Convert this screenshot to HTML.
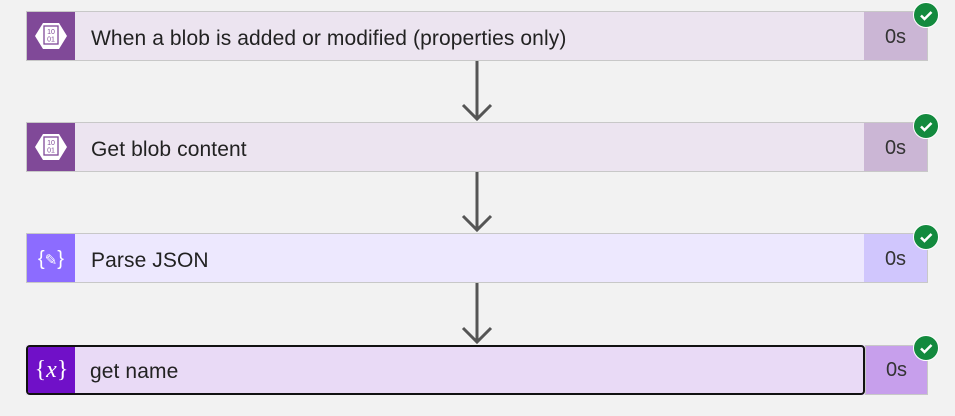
<!DOCTYPE html>
<html><head><style>
body{margin:0;width:955px;height:416px;background:#f2f2f2;position:relative;overflow:hidden;font-family:"Segoe UI","Liberation Sans",sans-serif;}
.card{position:absolute;left:26px;width:902px;height:49px;border:1px solid #c8c8c8;box-sizing:border-box;}
.ic{position:absolute;left:0;top:0;width:48px;height:100%;}
.t{position:absolute;left:64px;top:3px;line-height:48px;font-size:21px;color:#222;letter-spacing:0.1px;}
.d{position:absolute;right:0;top:0;width:63px;height:100%;font-size:20px;color:#333;line-height:50px;text-align:center;}
.ck{position:absolute;width:24px;height:24px;border-radius:50%;background:#138a3e;border:1.5px solid #fff;}
</style></head><body>

<div class="card" style="top:11px;height:50px;background:#ece4f0">
 <div class="ic" style="background:#804998"><svg width="48" height="48"><polygon points="8,24 16,11 32,11 40,24 32,37 16,37" fill="#fff"/><rect x="17" y="14" width="14" height="18" fill="none" stroke="#804998" stroke-width="1.3"/><text x="24" y="22" font-size="7" fill="#804998" text-anchor="middle" font-family="Liberation Sans">10</text><text x="24" y="29.5" font-size="7" fill="#804998" text-anchor="middle" font-family="Liberation Sans">01</text></svg></div>
 <div class="t">When a blob is added or modified (properties only)</div>
 <div class="d" style="background:#cbb6d5">0s</div>
</div>
<div class="ck" style="left:913px;top:2px"><svg width="24" height="24"><path d="M7 12.5l3.5 3.5 7-7" stroke="#fff" stroke-width="2.5" fill="none"/></svg></div>

<div class="card" style="top:122px;height:50px;background:#ece4f0">
 <div class="ic" style="background:#804998"><svg width="48" height="48"><polygon points="8,24 16,11 32,11 40,24 32,37 16,37" fill="#fff"/><rect x="17" y="14" width="14" height="18" fill="none" stroke="#804998" stroke-width="1.3"/><text x="24" y="22" font-size="7" fill="#804998" text-anchor="middle" font-family="Liberation Sans">10</text><text x="24" y="29.5" font-size="7" fill="#804998" text-anchor="middle" font-family="Liberation Sans">01</text></svg></div>
 <div class="t">Get blob content</div>
 <div class="d" style="background:#cbb6d5">0s</div>
</div>
<div class="ck" style="left:913px;top:113px"><svg width="24" height="24"><path d="M7 12.5l3.5 3.5 7-7" stroke="#fff" stroke-width="2.5" fill="none"/></svg></div>

<div class="card" style="top:233px;height:50px;background:#ede8fe">
 <div class="ic" style="background:#8c6cff;color:#fff;font-size:20px;text-align:center;line-height:50px;font-family:'Liberation Sans',sans-serif">{<span style="font-size:15px">✎</span>}</div>
 <div class="t">Parse JSON</div>
 <div class="d" style="background:#d0c6fd">0s</div>
</div>
<div class="ck" style="left:913px;top:224px"><svg width="24" height="24"><path d="M7 12.5l3.5 3.5 7-7" stroke="#fff" stroke-width="2.5" fill="none"/></svg></div>

<div class="card" style="top:345px;height:50px;background:#e9daf6;border:none">
 <div style="position:absolute;left:0;top:0;width:839px;height:50px;border:2px solid #111;border-radius:4px;box-sizing:border-box;overflow:hidden">
  <div class="ic" style="background:#7010c8;color:#fff;font-size:24px;text-align:center;line-height:46px;font-family:'Liberation Serif',serif;width:47px">{<i>x</i>}</div>
 </div>
 <div class="t" style="top:3px">get name</div>
 <div class="d" style="background:#c79fec;border:1px solid #c8c8c8;box-sizing:border-box;line-height:48px">0s</div>
</div>
<div class="ck" style="left:913px;top:335px"><svg width="24" height="24"><path d="M7 12.5l3.5 3.5 7-7" stroke="#fff" stroke-width="2.5" fill="none"/></svg></div>

<svg style="position:absolute;left:0;top:0" width="955" height="416">
<g stroke="#555" stroke-width="3" fill="none">
<path d="M477 61V119M463 105l14 14 14-14"/>
<path d="M477 172V230M463 216l14 14 14-14"/>
<path d="M477 283V342M463 328l14 14 14-14"/>
</g></svg>
</body></html>
